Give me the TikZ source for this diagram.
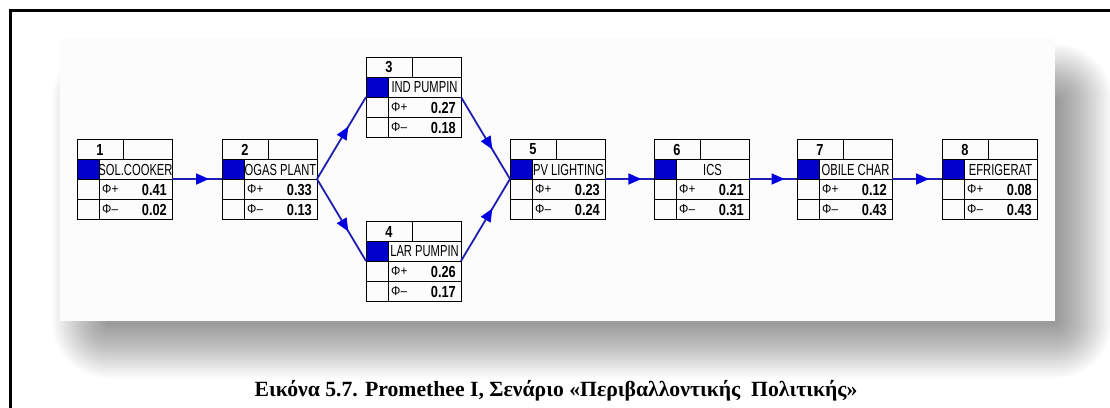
\documentclass[tikz,border=0pt]{standalone}
\usepackage{fontspec}
\setmainfont{Liberation Serif}
\newfontfamily\namefont[FakeStretch=0.7]{Liberation Sans}
\newfontfamily\valfont[FakeStretch=0.8]{Liberation Sans}
\newfontfamily\phifont[FakeStretch=0.9]{Liberation Sans}
\usetikzlibrary{arrows.meta,decorations.markings,calc}
\definecolor{lineblue}{RGB}{30,30,175}
\definecolor{headblue}{RGB}{0,0,225}
\definecolor{sqblue}{RGB}{0,0,205}
\tikzset{
  cell/.style={draw=black, line width=0.8pt},
  numtext/.style={font=\valfont\bfseries\fontsize{16}{18}\selectfont, inner sep=0pt},
  labtext/.style={font=\namefont\fontsize{16}{18}\selectfont, inner sep=0pt},
  phitext/.style={font=\phifont\fontsize{13}{14}\selectfont, inner sep=0pt, anchor=west},
  valtext/.style={font=\valfont\bfseries\fontsize{16}{18}\selectfont, inner sep=0pt, anchor=east},
  flow/.style={draw=lineblue, line width=1.8pt, postaction={decorate},
    decoration={markings, mark=at position #1 with {\arrow[color=headblue]{Triangle[length=13pt,width=11pt]}}}},
  flow/.default=0.74
}
% #1 name, #2 x, #3 y, #4 number, #5 label, #6 phi+, #7 phi-
\newcommand\promnode[7]{%
  \begin{scope}[shift={(#2,#3)}]
    \node[name=#1, minimum width=95pt, minimum height=80pt, inner sep=0pt, anchor=north west] at (0,0) {};
    \fill[sqblue] (0,20) rectangle (22,40);
    \draw[cell] (0,0) rectangle (95,80);
    \draw[cell] (0,20) -- (95,20) (0,40) -- (95,40) (0,60) -- (95,60);
    \draw[cell] (46,0) -- (46,20) (22,20) -- (22,80);
    \node[numtext, name=#1-num] at (23,10.5) {#4};
    \begin{scope}
      \clip (22.5,20.5) rectangle (94.5,39.5);
      \node[labtext, name=#1-lab] at (58.5,30.5) {#5};
    \end{scope}
    \node[phitext, name=#1-pp] at (25,50.5) {Φ+};
    \node[phitext, name=#1-pm] at (25,70.5) {Φ–};
    \node[valtext, name=#1-vp] at (90,50.5) {#6};
    \node[valtext, name=#1-vm] at (90,70.5) {#7};
    \coordinate (#1-in) at (0,40);
    \coordinate (#1-out) at (95,40);
  \end{scope}}
\begin{document}
\begin{tikzpicture}[x=1pt, y=-1pt]
  \useasboundingbox (0,0) rectangle (1110,407);
  \clip (0,0) rectangle (1110,407);
  \fill[white] (0,0) rectangle (1110,407);
  % frame
  \draw[black, line width=2.6pt] (10.5,10.5) rectangle (1130,430);
  % shadow
  \foreach \r in {2,4,...,56} {
    \fill[black, opacity=0.017, rounded corners=\r pt] (108-\r, 100-\r) rectangle (1056+\r, 322+\r);
  }
  % panel
  \fill[white!99!black] (60,38) rectangle (1055,321);
  % nodes
  \promnode{n1}{77}{139}{1}{SOL.COOKER}{0.41}{0.02}
  \promnode{n2}{222}{139}{2}{OGAS PLANT}{0.33}{0.13}
  \promnode{n3}{366}{57}{3}{IND PUMPIN}{0.27}{0.18}
  \promnode{n4}{366}{221}{4}{LAR PUMPIN}{0.26}{0.17}
  \promnode{n5}{510}{139}{5}{PV LIGHTING}{0.23}{0.24}
  \promnode{n6}{654}{139}{6}{ICS}{0.21}{0.31}
  \promnode{n7}{797}{139}{7}{OBILE CHAR}{0.12}{0.43}
  \promnode{n8}{942}{139}{8}{EFRIGERAT}{0.08}{0.43}
  % connectors
  \draw[flow] (n1-out) -- (n2-in);
  \draw[flow=0.64] (n2-out) -- (n3-in);
  \draw[flow=0.64] (n2-out) -- (n4-in);
  \draw[flow=0.64] (n3-out) -- (n5-in);
  \draw[flow=0.64] (n4-out) -- (n5-in);
  \draw[flow] (n5-out) -- (n6-in);
  \draw[flow] (n6-out) -- (n7-in);
  \draw[flow] (n7-out) -- (n8-in);
  % caption
  \node[font=\bfseries\fontsize{21.7}{24}\selectfont, anchor=base, inner sep=0pt] (cap) at (556,396)
    {Εικόνα 5.7. Promethee I, Σενάριο «Περιβαλλοντικής\ \ Πολιτικής»};
\end{tikzpicture}
\end{document}
